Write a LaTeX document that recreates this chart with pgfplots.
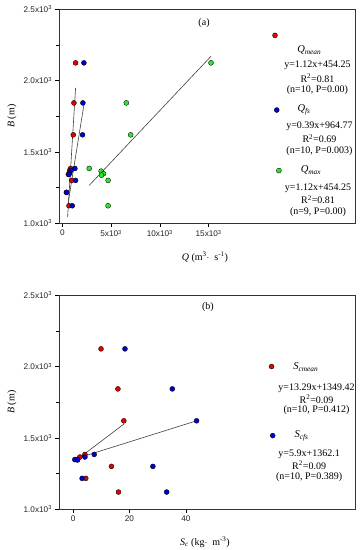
\documentclass[border=0pt]{standalone}
\usepackage{fontspec}
\setmainfont{Liberation Serif}
\setsansfont{Liberation Sans}
\usepackage{pgfplots}
\pgfplotsset{compat=1.18}
\definecolor{pred}{RGB}{228,0,0}
\definecolor{pblue}{RGB}{0,0,210}
\definecolor{pgreen}{RGB}{45,230,45}
\pgfplotsset{
  myax/.style={
    scale only axis, width=296pt, height=213.7pt,
    ymin=1000, ymax=2500,
    scaled x ticks=false, scaled y ticks=false,
    ytick={1000,1500,2000,2500},
    yticklabels={1.0x10\textsuperscript{3},1.5x10\textsuperscript{3},2.0x10\textsuperscript{3},2.5x10\textsuperscript{3}},
    minor ytick={1250,1750,2250},
    tick align=outside, xtick pos=bottom, ytick pos=left,
    major tick length=3.5pt, minor tick length=2.5pt,
    tick style={black, line width=0.5pt},
    axis line style={line width=0.6pt, black!80},
    tick label style={font=\sffamily\fontsize{8.2}{9}\selectfont, black!85},
    label style={font=\fontsize{10}{12}\selectfont},
    ylabel={\textit{B} (m)},
    ylabel style={at={(axis description cs:-0.159,0.5)}, anchor=center, rotate=0},
    clip=false,
  },
  dots/.style={only marks, mark=*, mark size=2.5pt, mark options={draw=black, line width=0.35pt, fill=#1}},
  fit/.style={no marks, line width=0.6pt, black!75},
}
\newcommand{\lt}{\fontsize{10}{12}\selectfont}
\begin{document}
\begin{tikzpicture}
\useasboundingbox (-59pt,-41pt) rectangle (305pt,509pt);
% ---------- panel (a) ----------
\begin{axis}[myax, at={(0pt,286pt)}, anchor=south west,
  xmin=-340, xmax=30000,
  xtick={0,5000,10000,15000},
  xticklabels={0,5x10\textsuperscript{3},10x10\textsuperscript{3},15x10\textsuperscript{3}},
  xlabel={\textit{Q} (m\textsuperscript{3}$\cdot$\ \ s\textsuperscript{-1})},
  xlabel style={at={(axis description cs:0.493,-0.159)}, anchor=center},
]
\addplot[dots=pgreen] coordinates {(15238,2124) (6565,1843) (7007,1619) (2755,1383) (3980,1364) (4218,1346) (4014,1336) (4694,1299) (4694,1121)};
\addplot[dots=pred] coordinates {(1361,2124) (1190,1843) (1122,1619) (850,1383) (760,1369) (680,1345) (620,1341) (952,1299) (420,1215) (680,1121)};
\addplot[dots=pblue] coordinates {(2211,2124) (2109,1843) (2075,1619) (1293,1383) (884,1369) (750,1350) (680,1341) (1361,1299) (442,1215) (1020,1121)};
\addplot[fit] coordinates {(544,1042) (1361,1948)};
\addplot[fit] coordinates {(615,1149) (2245,1843)};
\addplot[fit] coordinates {(2755,1264) (15238,2170)};
\node[font=\lt] at (rel axis cs:0.49,0.937) {(a)};
% legend block
\addplot[dots=pred] coordinates {(21800,2317)};
\node[font=\fontsize{10.5}{12}\selectfont, anchor=west] at (rel axis cs:0.793,0.81) {\textit{Q\textsubscript{mean}}};
\node[font=\lt] at (rel axis cs:0.873,0.736) {y=1.12x+454.25};
\node[font=\lt] at (rel axis cs:0.873,0.6785) {R\textsuperscript{2}=0.81};
\node[font=\lt] at (rel axis cs:0.873,0.622) {(n=10, P=0.00)};
\addplot[dots=pblue] coordinates {(21980,1793)};
\node[font=\fontsize{10.5}{12}\selectfont, anchor=west] at (rel axis cs:0.794,0.529) {\textit{Q\textsubscript{fs}}};
\node[font=\lt] at (rel axis cs:0.88,0.454) {y=0.39x+964.77};
\node[font=\lt] at (rel axis cs:0.88,0.395) {R\textsuperscript{2}=0.69};
\node[font=\lt] at (rel axis cs:0.88,0.337) {(n=10, P=0.003)};
\addplot[dots=pgreen] coordinates {(22200,1368)};
\node[font=\fontsize{10.5}{12}\selectfont, anchor=west] at (rel axis cs:0.805,0.248) {\textit{Q\textsubscript{max}}};
\node[font=\lt] at (rel axis cs:0.875,0.164) {y=1.12x+454.25};
\node[font=\lt] at (rel axis cs:0.875,0.108) {R\textsuperscript{2}=0.81};
\node[font=\lt] at (rel axis cs:0.875,0.051) {(n=9, P=0.00)};
\end{axis}
% ---------- panel (b) ----------
\begin{axis}[myax, at={(0pt,0pt)}, anchor=south west,
  xmin=-5, xmax=100,
  xtick={0,20,40},
  xticklabels={0,20,40},
  xlabel={\textit{S\textsubscript{c}} (kg$\cdot$\ \ m\textsuperscript{-3})},
  xlabel style={at={(axis description cs:0.493,-0.155)}, anchor=center},
]
\addplot[dots=pred] coordinates {(9.9,2124) (15.9,1843) (18.0,1619) (4.2,1383) (2.4,1365) (1.0,1347) (1.5,1345) (13.6,1299) (4.5,1215) (16.1,1119)};
\addplot[dots=pblue] coordinates {(18.4,2124) (35.2,1843) (43.8,1619) (7.5,1383) (4.2,1365) (0.6,1347) (1.6,1345) (28.3,1299) (3.2,1215) (33.2,1119)};
\addplot[fit] coordinates {(2.4,1362) (18.0,1596)};
\addplot[fit] coordinates {(2.4,1362) (43.8,1619)};
\node[font=\lt] at (rel axis cs:0.503,0.947) {(b)};
\addplot[dots=pred] coordinates {(70.4,2000)};
\node[font=\fontsize{10.5}{12}\selectfont, anchor=west] at (rel axis cs:0.78,0.665) {\textit{S\textsubscript{cmean}}};
\node[font=\lt] at (rel axis cs:0.87,0.565) {y=13.29x+1349.42};
\node[font=\lt] at (rel axis cs:0.87,0.515) {R\textsuperscript{2}=0.09};
\node[font=\lt] at (rel axis cs:0.87,0.461) {(n=10, P=0.412)};
\addplot[dots=pblue] coordinates {(70.8,1515)};
\node[font=\fontsize{10.5}{12}\selectfont, anchor=west] at (rel axis cs:0.784,0.342) {\textit{S\textsubscript{cfs}}};
\node[font=\lt] at (rel axis cs:0.845,0.258) {y=5.9x+1362.1};
\node[font=\lt] at (rel axis cs:0.845,0.206) {R\textsuperscript{2}=0.09};
\node[font=\lt] at (rel axis cs:0.845,0.150) {(n=10, P=0.389)};
\end{axis}
\end{tikzpicture}
\end{document}
